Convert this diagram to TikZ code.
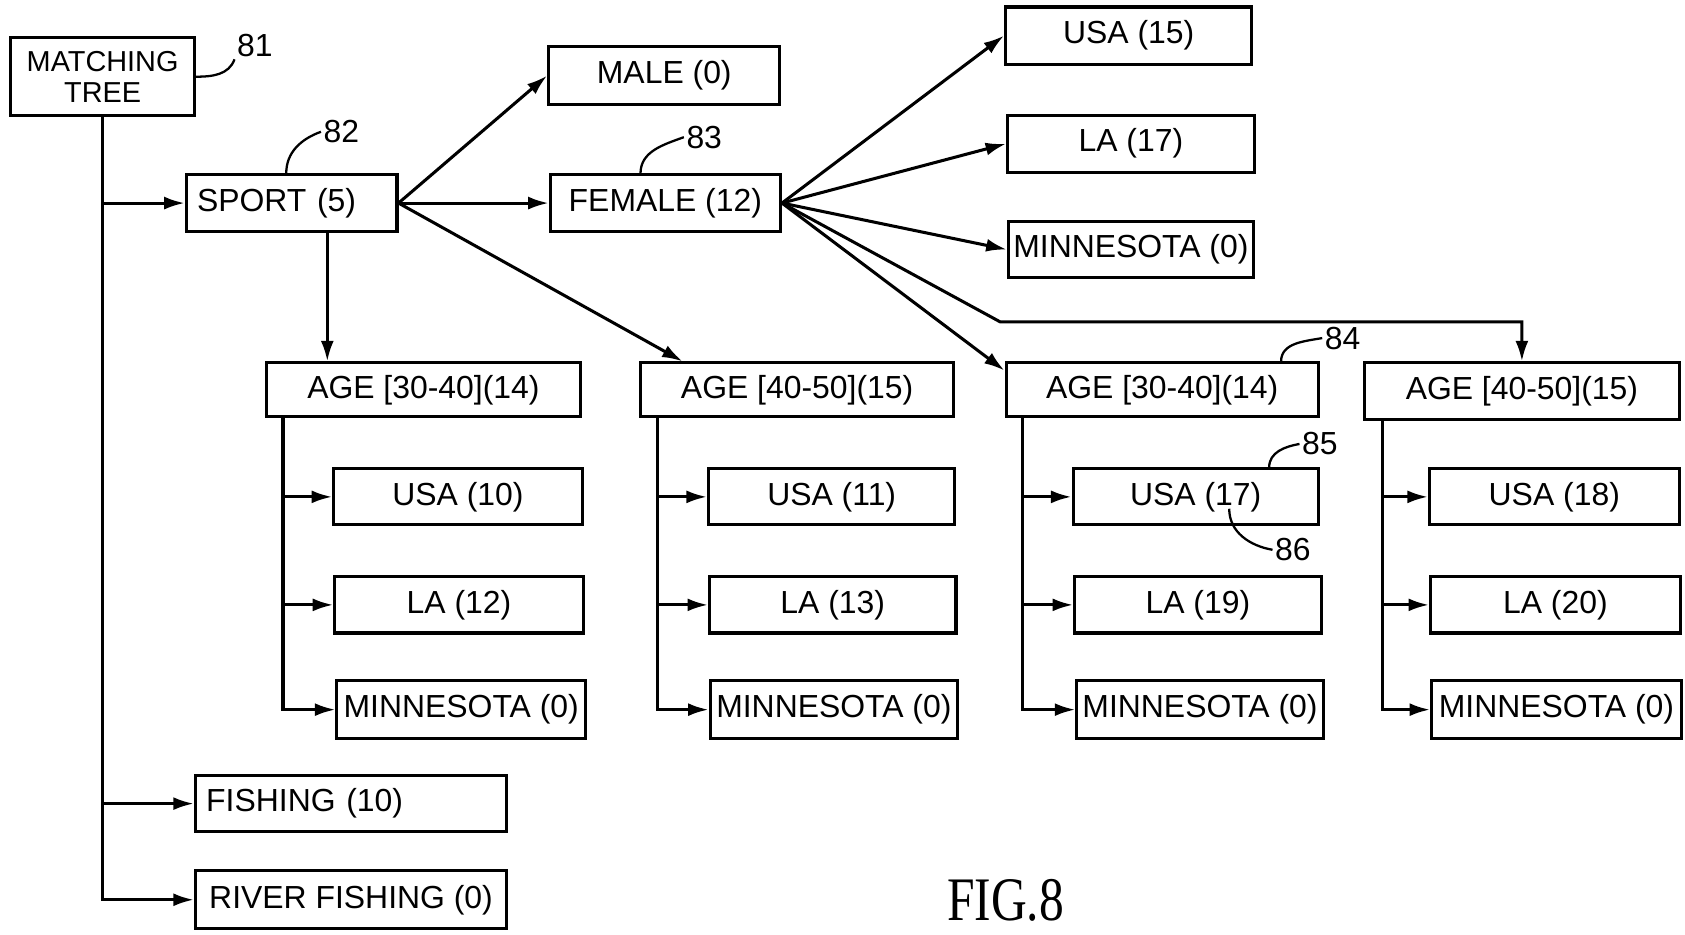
\documentclass[tikz,border=0pt]{standalone}
\usepackage{fontspec}
\setmainfont{Liberation Sans}
\newfontfamily\figfont{Liberation Serif}
\usepackage{tikz}
\usetikzlibrary{positioning, arrows.meta}

\begin{document}
\begin{tikzpicture}[x=0.01cm, y=-0.01cm, >={Latex[length=1.9mm,width=1.2mm]},
    box/.style={draw, thick, minimum width=#1, minimum height=0.52cm, inner sep=0pt,
      font=\fontsize{8.4}{8.2}\selectfont},
    num/.style={inner sep=0.5pt, font=\fontsize{8.4}{8.2}\selectfont},
    leader/.style={semithick}]
    \fill[white] (0,0) rectangle (1560,863);

    \node[box=1.7cm, minimum height=0.72cm, align=center,
      font=\fontsize{7.6}{8.1}\selectfont] (tree) at (95,71) {MATCHING\\TREE};
    \node[box=1.95cm, text width=1.75cm, align=left] (sport) at (270,188) {SPORT (5)};
    \node[box=2.14cm, minimum height=0.54cm] (male) at (615,70) {MALE (0)};
    \node[box=2.13cm] (female) at (616,188) {FEMALE (12)};

    \node[box=2.28cm, minimum height=0.53cm] (usaF) at (1045,33) {USA (15)};
    \node[box=2.28cm, minimum height=0.53cm] (laF) at (1047,133) {LA (17)};
    \node[box=2.27cm] (minF) at (1047,231) {MINNESOTA (0)};

    \node[box=2.91cm, minimum height=0.5cm] (ageA) at (392,361) {AGE [30-40](14)};
    \node[box=2.89cm, minimum height=0.5cm] (ageB) at (738,361) {AGE [40-50](15)};
    \node[box=2.89cm, minimum height=0.5cm] (ageC) at (1076,361) {AGE [30-40](14)};
    \node[box=2.92cm, minimum height=0.52cm] (ageD) at (1409,362) {AGE [40-50](15)};

    \node[box=2.3cm] (usaA) at (424,460) {USA (10)};
    \node[box=2.3cm] (laA) at (425,560) {LA (12)};
    \node[box=2.3cm, minimum height=0.54cm] (minA) at (427,657) {MINNESOTA (0)};
    \node[box=2.28cm] (usaB) at (770,460) {USA (11)};
    \node[box=2.28cm] (laB) at (771,560) {LA (13)};
    \node[box=2.29cm, minimum height=0.54cm] (minB) at (772,657) {MINNESOTA (0)};
    \node[box=2.27cm] (usaC) at (1107,460) {USA (17)};
    \node[box=2.28cm] (laC) at (1109,560) {LA (19)};
    \node[box=2.28cm, minimum height=0.54cm] (minC) at (1111,657) {MINNESOTA (0)};
    \node[box=2.31cm] (usaD) at (1439,460) {USA (18)};
    \node[box=2.31cm] (laD) at (1440,560) {LA (20)};
    \node[box=2.31cm, minimum height=0.54cm] (minD) at (1441,657) {MINNESOTA (0)};

    \node[box=2.88cm, text width=2.68cm, align=left] (fish) at (325,744) {FISHING (10)};
    \node[box=2.88cm, minimum height=0.54cm] (river) at (325,833) {RIVER FISHING (0)};

    \node[num] (n81) at (236,42) {81};
    \node[num] (n82) at (316,122) {82};
    \node[num] (n83) at (652,127) {83};
    \node[num] (n84) at (1243,313) {84};
    \node[num] (n85) at (1222,411) {85};
    \node[num] (n86) at (1197,509) {86};
    \node[font=\figfont\fontsize{16.3}{16}\selectfont] (fig) at (931,834) {\scalebox{0.8}[1]{FIG.8}};

    % main trunk
    \draw[thick, ->] (tree.south) |- (river.west);
    \draw[thick, ->] (tree.south |- sport.west) -- (sport.west);
    \draw[thick, ->] (tree.south |- fish.west) -- (fish.west);

    % sport
    \coordinate (sA) at ([xshift=0.33cm]sport.south);
    \draw[thick, ->] (sA) -- (sA |- ageA.north);
    \draw[thick, ->] (sport.east) -- (male.west);
    \draw[thick, ->] (sport.east) -- (female.west);
    \draw[thick, ->] (sport.east) -- (ageB.166);

    % female
    \draw[thick, ->] (female.east) -- (usaF.west);
    \draw[thick, ->] (female.east) -- (laF.west);
    \draw[thick, ->] (female.east) -- (minF.west);
    \draw[thick, ->] (female.east) -- (ageC.173);
    \coordinate (kink) at (926,298);
    \draw[thick, ->] (female.east) -- (kink) -| (ageD.north);

    % age groups
    \coordinate (tA) at ([xshift=0.17cm]ageA.south west);
    \draw[thick, ->] (tA) |- (minA.west);
    \draw[thick, ->] (tA |- usaA.west) -- (usaA.west);
    \draw[thick, ->] (tA |- laA.west) -- (laA.west);
    \coordinate (tB) at ([xshift=0.17cm]ageB.south west);
    \draw[thick, ->] (tB) |- (minB.west);
    \draw[thick, ->] (tB |- usaB.west) -- (usaB.west);
    \draw[thick, ->] (tB |- laB.west) -- (laB.west);
    \coordinate (tC) at ([xshift=0.17cm]ageC.south west);
    \draw[thick, ->] (tC) |- (minC.west);
    \draw[thick, ->] (tC |- usaC.west) -- (usaC.west);
    \draw[thick, ->] (tC |- laC.west) -- (laC.west);
    \coordinate (tD) at ([xshift=0.18cm]ageD.south west);
    \draw[thick, ->] (tD) |- (minD.west);
    \draw[thick, ->] (tD |- usaD.west) -- (usaD.west);
    \draw[thick, ->] (tD |- laD.west) -- (laD.west);

    % reference numerals
    \draw[leader] (tree.east) to[out=0, in=250] (n81.south west);
    \draw[leader] ([xshift=-0.05cm]sport.north) to[out=90, in=200] (n82.west);
    \draw[leader] ([xshift=-0.23cm]female.north) to[out=90, in=200] (n83.west);
    \draw[leader] ([xshift=1.1cm]ageC.north) to[out=90, in=190] (n84.west);
    \draw[leader] ([xshift=0.68cm]usaC.north) to[out=90, in=190] (n85.west);
    \draw[leader] ([shift={(0.31cm,-0.11cm)}]usaC.center) to[out=-90, in=170] (n86.west);
\end{tikzpicture}
\end{document}
